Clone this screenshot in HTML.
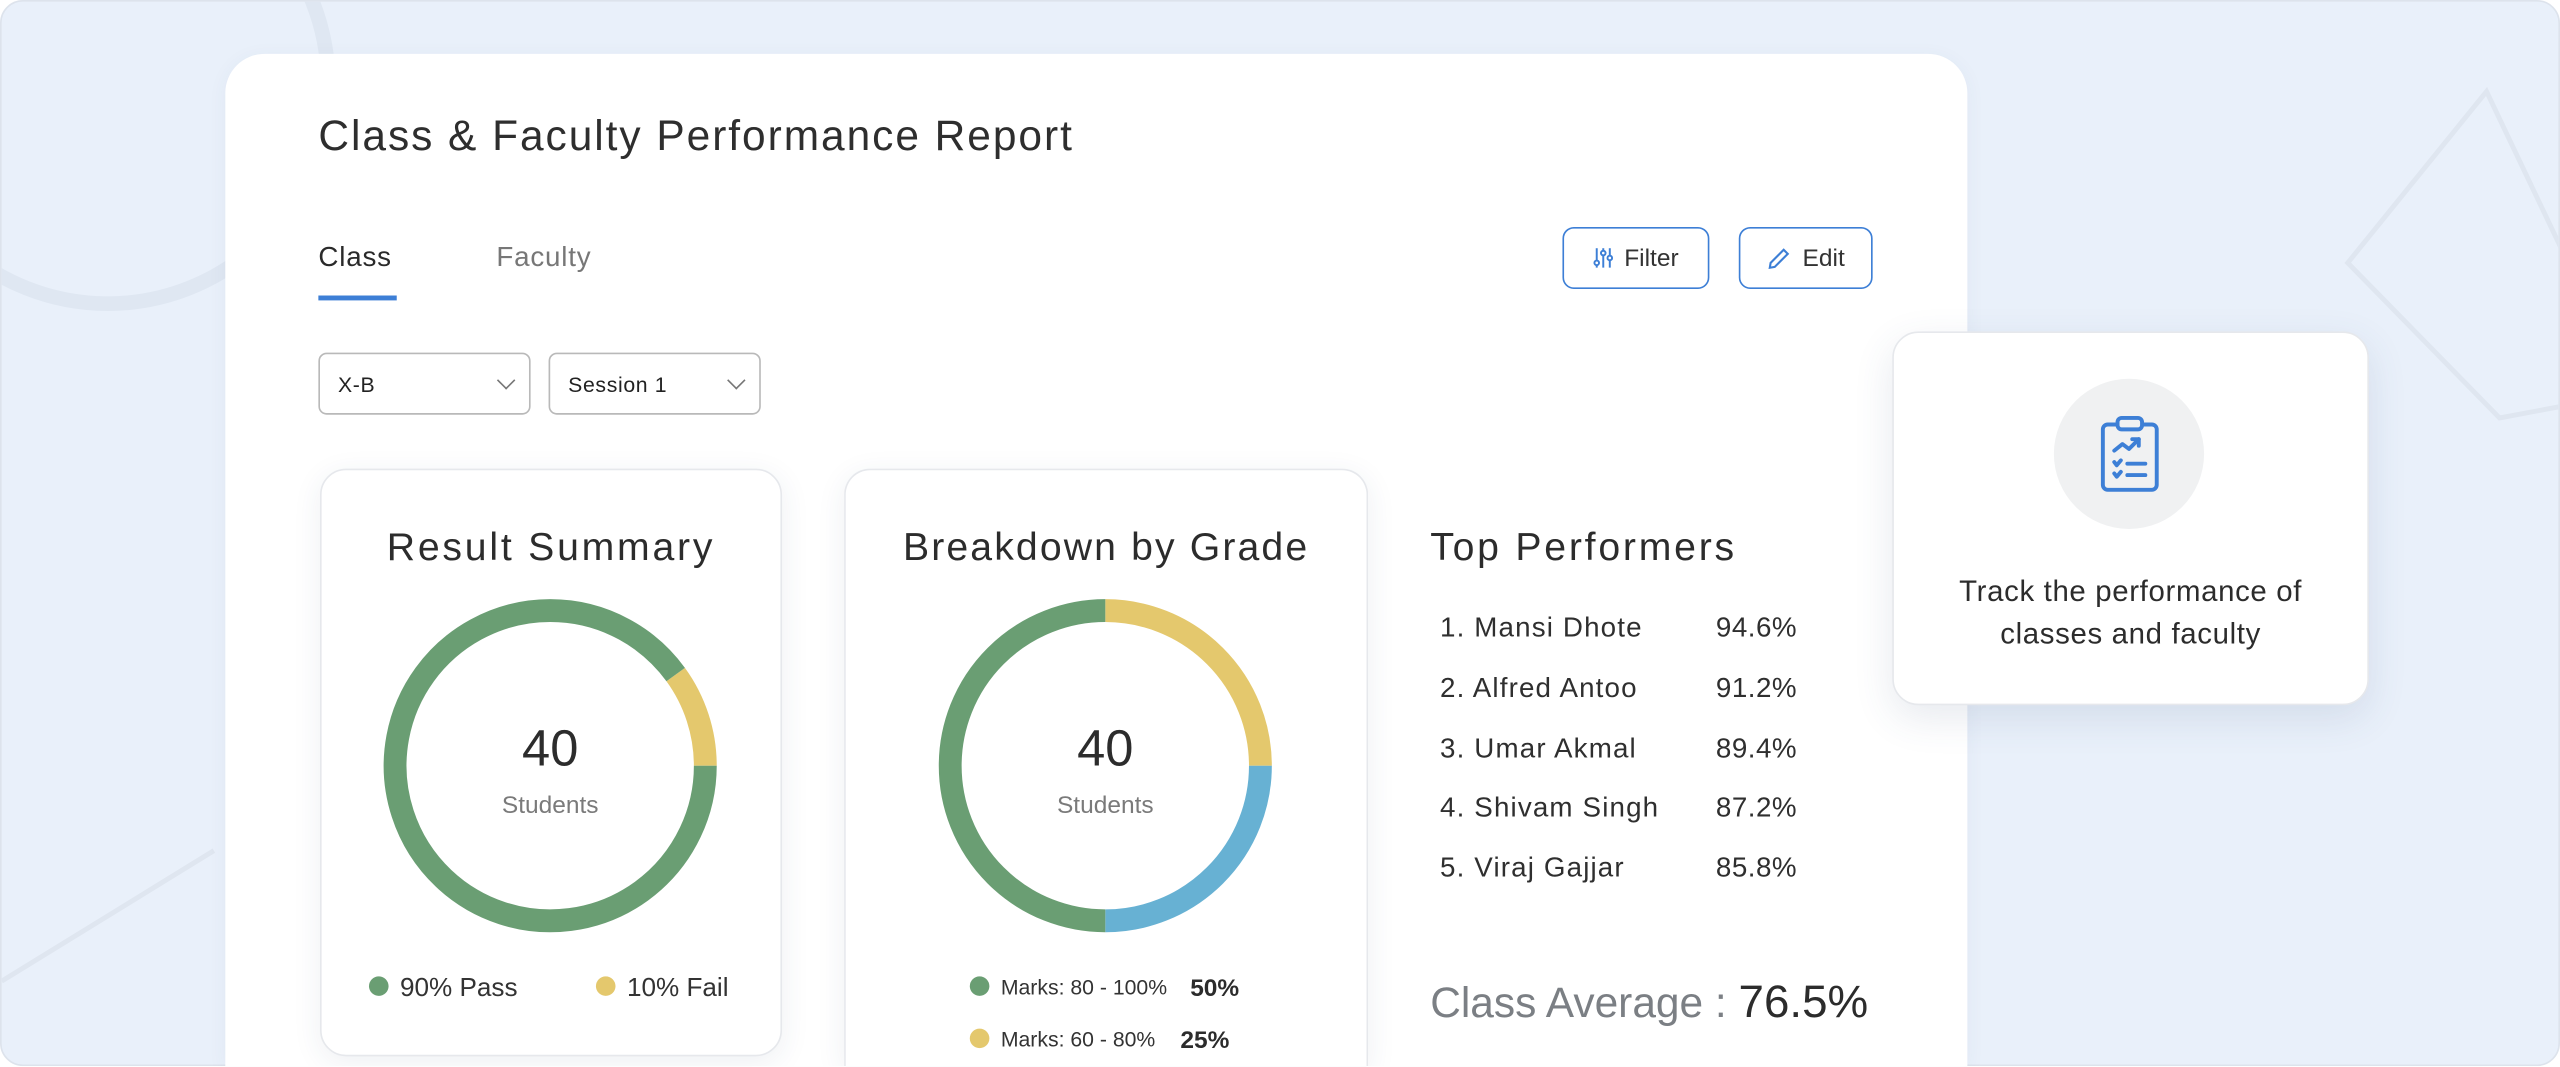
<!DOCTYPE html>
<html><head><meta charset="utf-8"><style>
html,body{margin:0;padding:0;width:2560px;height:1067px;overflow:hidden;background:#fff}
#wrap{position:absolute;left:0;top:0;width:1568px;height:653px;overflow:hidden;transform:scale(1.632653);transform-origin:0 0;font-family:"Liberation Sans",sans-serif;color:#2f2f2f}
.bg{position:absolute;left:0;top:0;width:1566px;height:651px;background:#e9f0fa;border:1px solid #dde3ec;border-radius:14px;overflow:hidden}
.abs{position:absolute}
.card{position:absolute;background:#fff}
.btn{position:absolute;border:1.3px solid #3d7fd6;border-radius:7px;box-sizing:border-box;font-size:15px;display:flex;align-items:center;justify-content:center;gap:7px;color:#333}
.dd{position:absolute;border:1px solid #b9b9b9;border-radius:5px;box-sizing:border-box;font-size:13px;display:flex;align-items:center;padding-left:11px;color:#222;letter-spacing:0.4px}
.chev{position:absolute;right:10px;top:12px;width:7px;height:7px;border-right:1.2px solid #777;border-bottom:1.2px solid #777;transform:rotate(45deg)}
.panel{position:absolute;background:#fff;border:1px solid #e6e8ec;border-radius:16px;box-shadow:0 4px 18px rgba(40,60,100,0.08);box-sizing:border-box}
.row{position:absolute;font-size:17px;color:#2f2f2f;letter-spacing:0.7px}
.h{letter-spacing:1.7px}
</style></head><body>
<div id="wrap">
<div class="bg">
<svg class="abs" style="left:0;top:0" width="1566" height="651">
<circle cx="65" cy="50" r="135" fill="none" stroke="#dfe7f2" stroke-width="9"/>
<polygon points="1522,55 1610,240 1530,255 1437,160" fill="none" stroke="#dfe6f0" stroke-width="3"/>
<line x1="0" y1="600" x2="130" y2="520" stroke="#dfe6f0" stroke-width="3"/>
</svg>
</div>
<div class="card" style="left:138px;top:33px;width:1067px;height:620px;border-radius:24px 24px 0 0;box-shadow:0 2px 12px rgba(60,80,120,0.05)"></div>
<div class="abs" style="left:195px;top:68px;font-size:26px;letter-spacing:1.2px;color:#2e2e2e;white-space:nowrap">Class &amp; Faculty Performance Report</div>
<div class="abs" style="left:195px;top:148px;font-size:17px;color:#2a2a2a;letter-spacing:0.5px">Class</div>
<div class="abs" style="left:195px;top:181px;width:48px;height:3px;background:#3d7fd6"></div>
<div class="abs" style="left:304px;top:148px;font-size:17px;color:#777;letter-spacing:0.5px">Faculty</div>
<div class="btn" style="left:957px;top:139px;width:90px;height:38px">
<svg width="12" height="12" viewBox="0 0 12 12"><g stroke="#3d7fd6" stroke-width="1.2" fill="none"><line x1="2" y1="0" x2="2" y2="12"/><line x1="6" y1="0" x2="6" y2="12"/><line x1="10" y1="0" x2="10" y2="12"/><circle cx="2" cy="9" r="1.4" fill="#fff"/><circle cx="6" cy="3" r="1.4" fill="#fff"/><circle cx="10" cy="6" r="1.4" fill="#fff"/></g></svg>Filter</div>
<div class="btn" style="left:1065px;top:139px;width:82px;height:38px">
<svg width="15" height="15" viewBox="0 0 15 15"><path d="M2 13 L2.5 10 L10.5 2 L13 4.5 L5 12.5 Z" fill="none" stroke="#3d7fd6" stroke-width="1.3"/></svg>Edit</div>
<div class="dd" style="left:195px;top:216px;width:130px;height:38px">X-B<span class="chev"></span></div>
<div class="dd" style="left:336px;top:216px;width:130px;height:38px">Session 1<span class="chev"></span></div>

<div class="panel" style="left:196px;top:287px;width:283px;height:360px"></div>
<div class="panel" style="left:517px;top:287px;width:321px;height:366px;border-bottom:none;border-radius:16px 16px 0 0"></div>
<div class="abs h" style="left:196px;top:322px;width:283px;text-align:center;font-size:24px;color:#2c2c2c">Result Summary</div>
<div class="abs h" style="left:517px;top:322px;width:321px;text-align:center;font-size:24px;color:#2c2c2c;letter-spacing:1.3px">Breakdown by Grade</div>

<svg id="charts" class="abs" style="left:0;top:0" width="1566" height="651"></svg>

<div class="abs" style="left:287px;top:441px;width:100px;text-align:center;font-size:31px;color:#2c2c2c">40</div>
<div class="abs" style="left:287px;top:485px;width:100px;text-align:center;font-size:15px;color:#7a7a7a">Students</div>
<div class="abs" style="left:627px;top:441px;width:100px;text-align:center;font-size:31px;color:#2c2c2c">40</div>
<div class="abs" style="left:627px;top:485px;width:100px;text-align:center;font-size:15px;color:#7a7a7a">Students</div>

<div class="abs h" style="left:876px;top:322px;font-size:24px;color:#2c2c2c">Top Performers</div>
<div class="row" style="left:882px;top:375px">1. Mansi Dhote</div><div class="row" style="left:1051px;top:375px;letter-spacing:0.3px">94.6%</div>
<div class="row" style="left:882px;top:412px">2. Alfred Antoo</div><div class="row" style="left:1051px;top:412px;letter-spacing:0.3px">91.2%</div>
<div class="row" style="left:882px;top:449px">3. Umar Akmal</div><div class="row" style="left:1051px;top:449px;letter-spacing:0.3px">89.4%</div>
<div class="row" style="left:882px;top:485px">4. Shivam Singh</div><div class="row" style="left:1051px;top:485px;letter-spacing:0.3px">87.2%</div>
<div class="row" style="left:882px;top:522px">5. Viraj Gajjar</div><div class="row" style="left:1051px;top:522px;letter-spacing:0.3px">85.8%</div>
<div class="abs" style="left:876px;top:598px;font-size:26px;color:#7b7f84;white-space:nowrap">Class Average : <span style="color:#2c2c2c;font-size:28px">76.5%</span></div>

<div class="panel" style="left:1159px;top:203px;width:292px;height:229px;box-shadow:0 8px 24px rgba(60,80,120,0.12)"></div>
<div class="abs" style="left:1258px;top:232px;width:92px;height:92px;border-radius:50%;background:#f0f1f2">
<svg width="92" height="92" viewBox="0 0 92 92"><g fill="none" stroke="#3d7fd6" stroke-width="2.4" stroke-linecap="round" stroke-linejoin="round"><rect x="30" y="28" width="33" height="40" rx="3"/><rect x="39" y="24" width="15" height="7" rx="2.5" fill="#f0f1f2"/><polyline points="37,44 42,40 46,43 52,37"/><polyline points="48,37 52,37 52,41"/><polyline points="37,51 38.5,53 41,50"/><line x1="45" y1="52" x2="56" y2="52"/><polyline points="37,58 38.5,60 41,57"/><line x1="45" y1="59" x2="56" y2="59"/></g></svg></div>
<div class="abs" style="left:1159px;top:349px;width:292px;text-align:center;font-size:18px;line-height:26px;color:#2c2c2c;letter-spacing:0.4px;font-weight:normal">Track the performance of<br>classes and faculty</div>

<script>
const resultCategories = ["Fail", "Pass"];
const resultValues = [10, 90];
const resultColors = ["#e4c86d", "#6a9e73"];
const resultStartDeg = 54;
const gradeCategories = ["Marks: 60 - 80%", "Marks: 40 - 60%", "Marks: 80 - 100%"];
const gradeValues = [25, 25, 50];
const gradeColors = ["#e4c86d", "#67b1d3", "#6a9e73"];
const gradeStartDeg = 0;
const resultLegendLabels = ["90% Pass", "10% Fail"];
const gradeLegendLabels = ["Marks: 80 - 100%", "Marks: 60 - 80%"];
const gradeLegendValues = ["50%", "25%"];

const NS = "http://www.w3.org/2000/svg";
const svg = document.getElementById("charts");
function pt(cx, cy, r, deg){const a=(deg-90)*Math.PI/180;return [cx+r*Math.cos(a), cy+r*Math.sin(a)];}
function donut(cx, cy, r, w, values, colors, start, name){
  const total = values.reduce((a,b)=>a+b,0);
  let ang = start;
  values.forEach((v,i)=>{
    const sweep = v/total*360;
    const p1 = pt(cx,cy,r,ang), p2 = pt(cx,cy,r,ang+sweep);
    const path = document.createElementNS(NS,"path");
    path.setAttribute("d",`M${p1[0]},${p1[1]} A${r},${r} 0 ${sweep>180?1:0} 1 ${p2[0]},${p2[1]}`);
    path.setAttribute("fill","none");
    path.setAttribute("stroke",colors[i]);
    path.setAttribute("stroke-width",w);
    
    
    svg.appendChild(path);
    ang += sweep;
  });
}
donut(337, 469, 95, 14, resultValues, resultColors, resultStartDeg, "result");
donut(677, 469, 95, 14, gradeValues, gradeColors, gradeStartDeg, "grade");

function dot(x,y,c){const d=document.createElementNS(NS,"circle");d.setAttribute("cx",x);d.setAttribute("cy",y);d.setAttribute("r",6);d.setAttribute("fill",c);


svg.appendChild(d);}
function txt(x,y,s,size,c,weight,name){const t=document.createElementNS(NS,"text");t.setAttribute("x",x);t.setAttribute("y",y);t.setAttribute("font-size",size);t.setAttribute("fill",c);t.setAttribute("font-family","Liberation Sans, sans-serif");if(weight)t.setAttribute("font-weight",weight);t.textContent=s;


svg.appendChild(t);}
const rlx=[232,371];
resultLegendLabels.forEach((l,i)=>{dot(rlx[i],604,resultColors[1-i]);txt(rlx[i]+13,610,l,16,"#333",null,"result-legend-label");});
const glc=["#6a9e73","#e4c86d"];
gradeLegendLabels.forEach((l,i)=>{const y=604+i*32;dot(600,y,glc[i]);txt(613,y+5,l,13,"#333",null,"grade-legend-label");txt(729-(i?6:0),y+6,gradeLegendValues[i],15,"#2c2c2c","bold","grade-legend-value");});
</script>
</div>
</body></html>
